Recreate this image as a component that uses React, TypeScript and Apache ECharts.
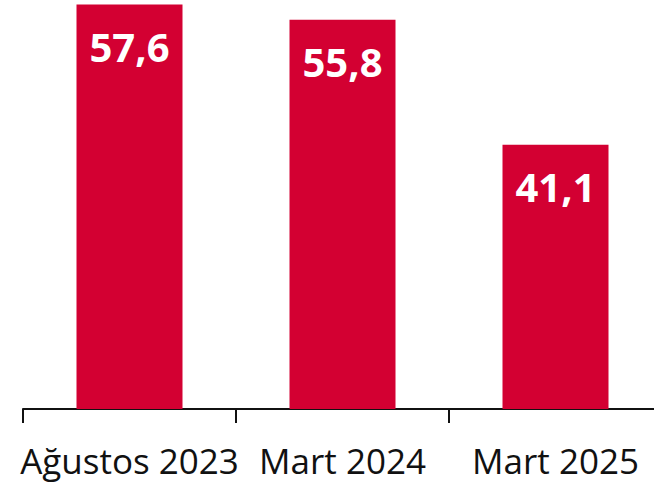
import React, { useEffect, useRef } from "react";
import * as echarts from "echarts";

const categories = ["Ağustos 2023", "Mart 2024", "Mart 2025"];
const values = [57.6, 55.8, 41.1];
const yMin = 10;
const yMax = 58;

export default function App() {
  const ref = useRef<HTMLDivElement>(null);
  useEffect(() => {
    document.body.style.margin = "0";
    document.body.style.overflow = "hidden";
    const chart = echarts.init(ref.current!, undefined, { renderer: "svg" });
    chart.setOption({
      animation: false,
      textStyle: { fontFamily: "Open Sans" },
      grid: { left: 23, right: 0, top: 1, bottom: 79, containLabel: false },
      xAxis: {
        type: "category",
        data: categories,
        boundaryGap: true,
        axisLine: { show: true, lineStyle: { color: "#111", width: 2 } },
        axisTick: { show: true, length: 14, lineStyle: { color: "#111", width: 2 } },
        axisLabel: {
          color: "#111",
          fontSize: 35,
          fontFamily: "Open Sans",
          margin: 34,
          interval: 0,
        },
      },
      yAxis: {
        type: "value",
        min: yMin,
        max: yMax,
        show: false,
        splitLine: { show: false },
      },
      series: [
        {
          type: "bar",
          data: values,
          barWidth: 106,
          itemStyle: { color: "#D30032" },
          label: {
            show: true,
            position: "insideTop",
            distance: 22,
            color: "#fff",
            fontSize: 40,
            fontWeight: "bold",
            fontFamily: "Open Sans",
            formatter: (p: any) => String(p.value).replace(".", ","),
          },
        },
      ],
    });
    return () => chart.dispose();
  }, []);
  return (
    <div
      ref={ref}
      style={{ position: "absolute", left: 0, top: 0, width: 662, height: 488 }}
    />
  );
}
